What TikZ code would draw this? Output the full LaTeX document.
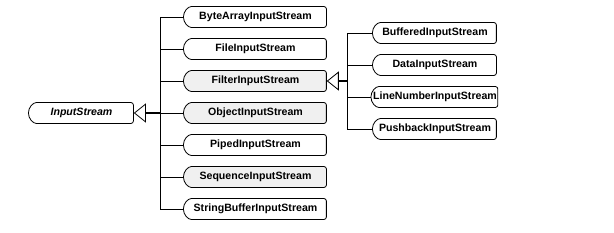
\documentclass[tikz,border=0pt]{standalone}
\usepackage{fontspec}
\setmainfont{Liberation Sans}
\usetikzlibrary{shapes.misc,arrows.meta,positioning}

\tikzset{
  cls/.style={rounded rectangle, rounded rectangle right arc=none, draw, line width=0.8pt,
    rounded corners=2.5pt, minimum height=21pt, inner xsep=1pt, inner ysep=0pt,
    font=\fontsize{10.6}{12}\selectfont\bfseries},
  midcls/.style={cls, minimum width=145pt},
  subcls/.style={cls, minimum width=126pt},
  shaded/.style={fill=black!6},
  link/.style={line width=0.6pt},
  extends/.style={line width=1.3pt, -{Triangle[open, length=12pt, width=19pt, line width=0.8pt]}}
}

\begin{document}
\begin{tikzpicture}[x=1pt, y=-1pt, node distance=32pt]
\useasboundingbox (0,0) rectangle (614,233);
% abstract base class
\node (base) [cls, minimum width=107pt, font=\fontsize{10.6}{12}\selectfont\bfseries\itshape] at (81.5,113) {InputStream};
% direct subclasses
\node (bytearray) [midcls] at (255.5,17) {ByteArrayInputStream};
\node (file) [midcls, below of=bytearray] {FileInputStream};
\node (filter) [midcls, shaded, below of=file] {FilterInputStream};
\node (object) [midcls, shaded, below of=filter] {ObjectInputStream};
\node (piped) [midcls, below of=object] {PipedInputStream};
\node (sequence) [midcls, shaded, below of=piped] {SequenceInputStream};
\node (stringbuffer) [midcls, below of=sequence] {StringBufferInputStream};
% filter subclasses
\node (buffered) [subcls] at (435,33) {BufferedInputStream};
\node (data) [subcls, below of=buffered] {DataInputStream};
\node (linenumber) [subcls, below of=data] {LineNumberInputStream};
\node (pushback) [subcls, below of=linenumber] {PushbackInputStream};
% inheritance links
\coordinate (mainbus) at (160,113);
\coordinate (filterbus) at (347,81);
\draw[link] (bytearray.west -| mainbus) -- (stringbuffer.west -| mainbus);
\foreach \n in {bytearray,file,filter,object,piped,sequence,stringbuffer}
  \draw[link] (\n.west -| mainbus) -- (\n.west);
\draw[extends] (mainbus) -- (base.east);
\draw[link] (buffered.west -| filterbus) -- (pushback.west -| filterbus);
\foreach \n in {buffered,data,linenumber,pushback}
  \draw[link] (\n.west -| filterbus) -- (\n.west);
\draw[extends] (filterbus) -- (filter.east);
\end{tikzpicture}
\end{document}
